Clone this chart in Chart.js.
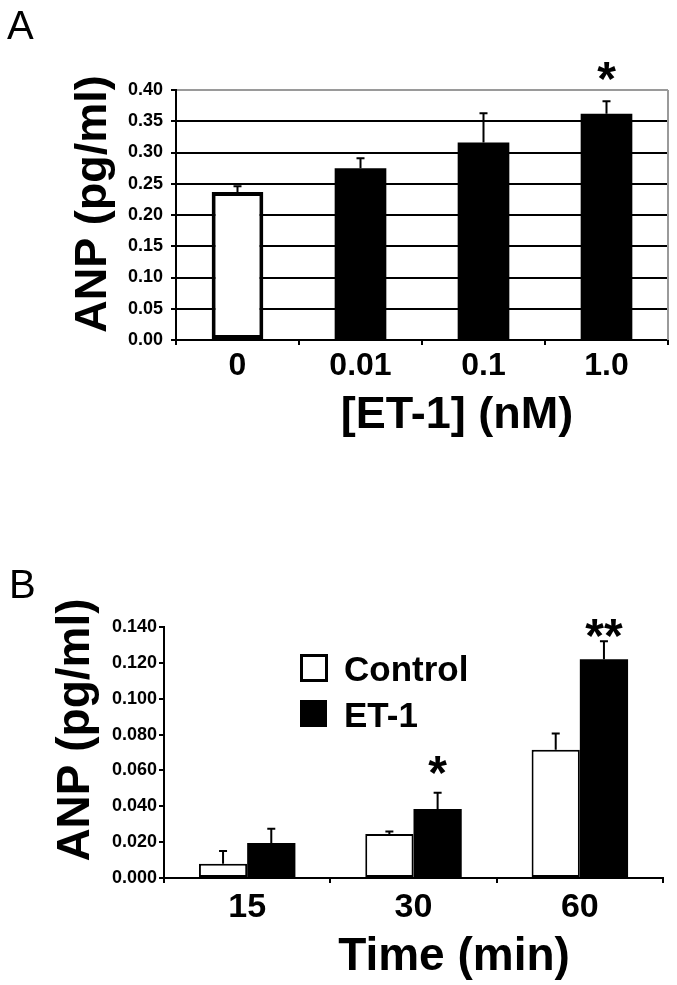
<!DOCTYPE html>
<html lang="en">
<head>
<meta charset="UTF-8" />
<title>ANP release - ET-1</title>
<script src="https://cdn.jsdelivr.net/npm/chart.js"></script>
<style>
  html, body { margin: 0; padding: 0; background: #fff; }
  .panel { position: absolute; left: 0; }
  #chartA { top: 0; }
  #chartB { top: 490px; }
</style>
</head>
<body>
<canvas id="chartA" class="panel" width="677" height="490"></canvas>
<canvas id="chartB" class="panel" width="677" height="495"></canvas>
<script>
// Panel A: dose response
const doseLabels = ['0', '0.01', '0.1', '1.0'];
const doseAnp = [0.237, 0.275, 0.316, 0.362];
const doseErr = [0.009, 0.016, 0.047, 0.020];
const doseSig = ['', '', '', '*'];

// Panel B: time course
const timeLabels = ['15', '30', '60'];
const controlAnp = [0.008, 0.0245, 0.0716];
const controlErr = [0.007, 0.0015, 0.009];
const controlSig = ['', '', ''];
const et1Anp = [0.0195, 0.0385, 0.122];
const et1Err = [0.008, 0.009, 0.010];
const et1Sig = ['', '*', '**'];

const FONT = "'Liberation Sans', Arial, Helvetica, sans-serif";

// error bars, stars, titles, legend
const annot = {
  id: 'annot',
  afterDatasetsDraw(chart, args, o) {
    const ctx = chart.ctx;
    const y = chart.scales.y;
    ctx.save();
    ctx.strokeStyle = '#000';
    ctx.fillStyle = '#000';
    ctx.lineWidth = 2;
    chart.data.datasets.forEach((ds, i) => {
      const meta = chart.getDatasetMeta(i);
      meta.data.forEach((bar, j) => {
        const top = y.getPixelForValue(ds.data[j] + ds.err[j]);
        ctx.beginPath();
        ctx.moveTo(bar.x, bar.y);
        ctx.lineTo(bar.x, top);
        ctx.moveTo(bar.x - 4, top);
        ctx.lineTo(bar.x + 4, top);
        ctx.stroke();
        if (ds.sig[j]) {
          ctx.font = 'bold 48px ' + FONT;
          ctx.textAlign = 'center';
          ctx.textBaseline = 'alphabetic';
          ctx.fillText(ds.sig[j], bar.x, top + (o.sigDrop ? o.sigDrop[j] : 0));
        }
      });
    });
    ctx.restore();
  },
  afterDraw(chart, args, o) {
    const ctx = chart.ctx;
    const area = chart.chartArea;
    ctx.save();
    ctx.fillStyle = '#000';
    ctx.textBaseline = 'alphabetic';

    if (o.frame) {
      ctx.strokeStyle = '#9a9a9a';
      ctx.lineWidth = 2;
      ctx.beginPath();
      ctx.moveTo(area.right, area.top);
      ctx.lineTo(area.right, area.bottom);
      ctx.stroke();
    }

    // panel letter
    ctx.font = '40px ' + FONT;
    ctx.textAlign = 'left';
    ctx.fillText(o.letter, o.letterX, o.letterY);

    // x title
    ctx.font = 'bold ' + o.xSize + 'px ' + FONT;
    ctx.textAlign = 'center';
    ctx.fillText(o.xTitle, o.xTitleX, o.xTitleY);

    // y title
    ctx.save();
    ctx.translate(o.yTitleX, o.yTitleY);
    ctx.rotate(-Math.PI / 2);
    ctx.font = 'bold ' + o.ySize + 'px ' + FONT;
    ctx.fillText('ANP (pg/ml)', 0, 0);
    ctx.restore();

    // legend
    if (o.legend) {
      ctx.font = 'bold 35px ' + FONT;
      ctx.textAlign = 'left';
      chart.data.datasets.forEach((ds, i) => {
        const bx = o.legend.x, by = o.legend.y + i * o.legend.gap;
        if (ds.backgroundColor === '#fff') {
          ctx.fillStyle = '#fff';
          ctx.fillRect(bx, by, 27, 27);
          ctx.strokeStyle = '#000';
          ctx.lineWidth = 3;
          ctx.strokeRect(bx + 1.5, by + 1.5, 25, 25);
        } else {
          ctx.fillStyle = '#000';
          ctx.fillRect(bx, by, 27, 27);
        }
        ctx.fillStyle = '#000';
        ctx.fillText(ds.label, bx + 44, by + 27);
      });
    }
    ctx.restore();
  }
};

const tickFont = size => ({ family: FONT, size: size, weight: 'bold' });

// Panel A
new Chart(document.getElementById('chartA'), {
  type: 'bar',
  data: {
    labels: doseLabels,
    datasets: [{
      label: 'ANP',
      data: doseAnp,
      err: doseErr,
      sig: doseSig,
      backgroundColor: ['#fff', '#000', '#000', '#000'],
      borderColor: '#000',
      borderWidth: [4, 0, 0, 0],
      borderSkipped: false,
      barPercentage: 0.42,
      categoryPercentage: 1
    }]
  },
  options: {
    responsive: false,
    animation: false,
    events: [],
    layout: { padding: { top: 90, right: 9, left: 0, bottom: 0 } },
    plugins: {
      legend: { display: false },
      tooltip: { enabled: false },
      annot: {
        frame: true,
        letter: 'A', letterX: 7, letterY: 39,
        xTitle: '[ET-1] (nM)', xSize: 45, xTitleX: 457, xTitleY: 428,
        ySize: 45, yTitleX: 106, yTitleY: 204,
        sigDrop: [0, 0, 0, -6]
      }
    },
    scales: {
      x: {
        grid: { offset: true, drawOnChartArea: false, tickLength: 5, color: '#000', lineWidth: 2 },
        border: { color: '#000', width: 2 },
        ticks: { color: '#000', font: tickFont(32), padding: 2, maxRotation: 0 },
        afterFit: s => { s.height = 150; }
      },
      y: {
        min: 0,
        max: 0.4,
        grid: {
          color: c => (c.tick && c.tick.value > 0.399) ? '#9a9a9a' : '#000',
          lineWidth: 2, tickLength: 5, tickColor: '#000'
        },
        border: { color: '#000', width: 2 },
        ticks: { stepSize: 0.05, color: '#000', padding: 8, font: tickFont(18), callback: v => v.toFixed(2) },
        afterFit: s => { s.width = 176; }
      }
    }
  },
  plugins: [annot]
});

// Panel B
new Chart(document.getElementById('chartB'), {
  type: 'bar',
  data: {
    labels: timeLabels,
    datasets: [{
      label: 'Control',
      data: controlAnp,
      err: controlErr,
      sig: controlSig,
      backgroundColor: '#fff',
      borderColor: '#000',
      borderWidth: 2,
      borderSkipped: false,
      barPercentage: 1,
      categoryPercentage: 0.58
    }, {
      label: 'ET-1',
      data: et1Anp,
      err: et1Err,
      sig: et1Sig,
      backgroundColor: '#000',
      borderWidth: 0,
      barPercentage: 1,
      categoryPercentage: 0.58
    }]
  },
  options: {
    responsive: false,
    animation: false,
    events: [],
    layout: { padding: { top: 137, right: 14, left: 0, bottom: 0 } },
    plugins: {
      legend: { display: false },
      tooltip: { enabled: false },
      annot: {
        frame: false,
        letter: 'B', letterX: 9, letterY: 108,
        xTitle: 'Time (min)', xSize: 46, xTitleX: 454, xTitleY: 480,
        ySize: 46, yTitleX: 89, yTitleY: 240,
        sigDrop: [0, -4, 11],
        legend: { x: 300, y: 164, gap: 46 }
      }
    },
    scales: {
      x: {
        grid: { offset: true, drawOnChartArea: false, tickLength: 5, color: '#000', lineWidth: 2 },
        border: { color: '#000', width: 2 },
        ticks: { color: '#000', font: tickFont(34), padding: 4, maxRotation: 0 },
        afterFit: s => { s.height = 107; }
      },
      y: {
        min: 0,
        max: 0.14,
        grid: { drawOnChartArea: false, tickLength: 5, tickColor: '#000', lineWidth: 2 },
        border: { color: '#000', width: 2 },
        ticks: { stepSize: 0.02, color: '#000', padding: 2, font: tickFont(18), callback: v => v.toFixed(3) },
        afterFit: s => { s.width = 164; }
      }
    }
  },
  plugins: [annot]
});
</script>
</body>
</html>
